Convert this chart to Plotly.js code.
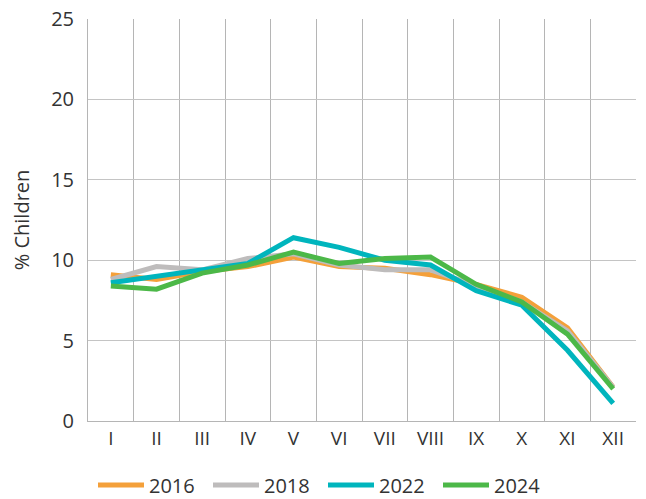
<!DOCTYPE html>
<html>
<head>
<meta charset="utf-8">
<script src="https://cdn.plot.ly/plotly-3.0.1.min.js"></script>
<style>html,body{margin:0;padding:0;background:#fff;}#chart{width:646px;height:499px;}</style>
</head>
<body>
<div id="chart"></div>
<script>
const months = ["I","II","III","IV","V","VI","VII","VIII","IX","X","XI","XII"];
const s2016 = [9.1, 8.8, 9.3, 9.6, 10.2, 9.6, 9.5, 9.1, 8.5, 7.7, 5.8, 2.1];
const s2018 = [8.8, 9.6, 9.4, 10.1, 10.4, 9.7, 9.4, 9.4, 8.4, 7.4, 5.6, 2.1];
const s2022 = [8.6, 9.0, 9.4, 9.8, 11.4, 10.8, 10.0, 9.7, 8.1, 7.2, 4.4, 1.1];
const s2024 = [8.4, 8.2, 9.2, 9.7, 10.5, 9.8, 10.1, 10.2, 8.5, 7.4, 5.4, 2.0];
const seriesNames = ["2016","2018","2022","2024"];
const colors = ["#F4A03A","#BEBCBC","#00B5BD","#4CB848"];
const values = [s2016, s2018, s2022, s2024];

const traces = values.map((v, i) => ({
  type: "scatter", mode: "lines", x: months, y: v, name: seriesNames[i],
  line: {color: colors[i], width: 5, shape: "linear"}
}));

const layout = {
  width: 646, height: 499,
  margin: {l: 88, r: 10, t: 19, b: 78},
  paper_bgcolor: "#fff", plot_bgcolor: "#fff",
  font: {family: "Open Sans, Noto Sans, sans-serif", size: 19, color: "#333"},
  showlegend: true,
  legend: {orientation: "h", x: 0.5, xanchor: "center", xref: "container", yref: "container",
           y: 0.028, yanchor: "middle", font: {size: 20, color: "#333"}, itemwidth: 46,
           entrywidth: 54, entrywidthmode: "pixels", traceorder: "normal"},
  xaxis: {type: "category", range: [-0.5, 11.5], tickson: "boundaries", showgrid: true, gridcolor: "#b5b5b5", gridwidth: 1,
          showline: true, linecolor: "#b5b5b5", ticks: "outside", ticklen: 10, tickcolor: "rgba(0,0,0,0)",
          tickfont: {size: 19}, fixedrange: true, zeroline: false, automargin: false},
  yaxis: {range: [0, 25], dtick: 5, tick0: 0, showgrid: true, gridcolor: "#c4c4c4", gridwidth: 1,
          showline: true, linecolor: "#b5b5b5", zeroline: false, ticks: "", ticklabelstandoff: 9,
          title: {text: "% Children", font: {size: 20}, standoff: 16}, automargin: false,
          tickfont: {size: 20}}
};

Plotly.newPlot("chart", traces, layout, {displayModeBar: false, staticPlot: true});
</script>
</body>
</html>
